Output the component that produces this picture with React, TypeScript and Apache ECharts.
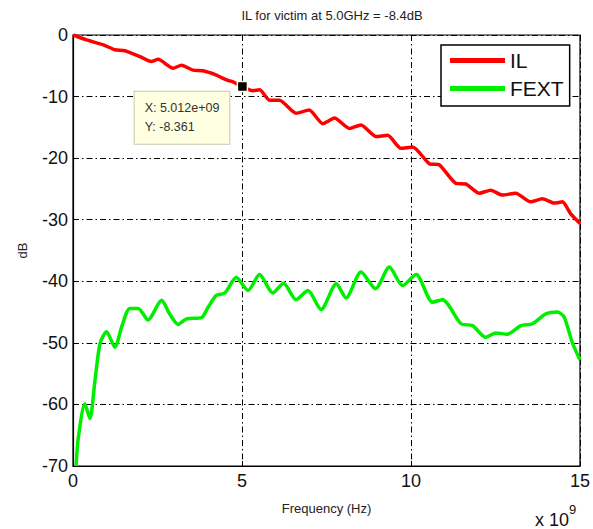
import React, { useEffect, useRef } from "react";
import * as echarts from "echarts";

const FONT = "Liberation Sans, Arial, sans-serif";

const titleText = "IL for victim at 5.0GHz = -8.4dB";
const seriesNames = ["IL", "FEXT"];
const xTicks = [0, 5, 10, 15];
const yTicks = [0, -10, -20, -30, -40, -50, -60, -70];

// frequency in units of 1e9 Hz
const ilFreq = [0, 0.4, 0.9, 1.24, 1.53, 1.98, 2.32, 2.52, 2.96, 3.21, 3.55, 3.85, 4.24, 4.54, 4.73, 5.012, 5.32, 5.52, 5.82, 6.11, 6.6, 6.99, 7.39, 7.74, 8.18, 8.52, 8.97, 9.31, 9.7, 10.05, 10.54, 10.84, 11.33, 11.62, 12.02, 12.36, 12.7, 13.1, 13.54, 13.89, 14.23, 14.48, 14.72, 15];
const ilDb = [0, -0.8, -1.6, -2.4, -2.55, -3.5, -4.3, -3.95, -5.4, -4.9, -5.7, -5.8, -6.5, -7.3, -7.6, -8.361, -9.05, -8.9, -10.6, -10.6, -12.7, -12.2, -14.4, -13.5, -15.2, -14.6, -16.5, -16.3, -18.4, -18.2, -20.9, -21.1, -24.1, -24.2, -25.7, -25.2, -26.0, -25.7, -27.1, -26.6, -27.3, -27.1, -29.0, -30.6];

const fextFreq = [0.09, 0.16, 0.35, 0.5, 0.65, 0.8, 0.99, 1.24, 1.44, 1.68, 1.93, 2.22, 2.62, 2.86, 3.11, 3.36, 3.8, 4.0, 4.24, 4.49, 4.83, 5.18, 5.52, 5.91, 6.23, 6.6, 6.95, 7.34, 7.79, 8.08, 8.52, 8.95, 9.36, 9.75, 10.15, 10.64, 10.93, 11.48, 11.82, 12.21, 12.51, 12.85, 13.25, 13.59, 13.99, 14.33, 14.53, 14.77, 15];
const fextDb = [-70, -65.3, -59.9, -62.3, -56.1, -50.1, -48.2, -50.7, -47.4, -44.4, -44.4, -46.3, -43.1, -45.3, -47.0, -46.1, -45.9, -44.2, -42.3, -41.9, -39.4, -41.5, -38.9, -41.9, -40.3, -43.0, -41.5, -44.6, -40.4, -42.7, -38.5, -41.2, -37.7, -40.7, -38.9, -43.4, -43.0, -46.9, -47.2, -49.1, -48.4, -48.6, -47.2, -46.9, -45.3, -45.0, -45.8, -49.9, -52.8];

const tipX = 5.012;
const tipY = -8.361;
const tipLabel = "X: 5.012e+09\nY: -8.361";

export default function App() {
  const ref = useRef<HTMLDivElement>(null);
  useEffect(() => {
    if (!ref.current) return;
    const chart = echarts.init(ref.current, null, { renderer: "svg" });
    const gridLine = { show: true, lineStyle: { color: "#000", width: 1, type: [6, 3, 1.5, 3] as any } };
    chart.setOption({
      animation: false,
      backgroundColor: "#fff",
      textStyle: { fontFamily: FONT },
      title: {
        text: titleText,
        left: 327,
        textAlign: "center",
        top: 4,
        textStyle: { fontSize: 13, fontWeight: "normal", color: "#222", fontFamily: FONT },
      },
      grid: {
        left: 73, right: 12, top: 35, bottom: 63,
        show: true, borderColor: "#000", borderWidth: 1.2, backgroundColor: "transparent",
      },
      legend: {
        orient: "vertical",
        left: 441, top: 45,
        backgroundColor: "#fff",
        borderColor: "#000",
        borderWidth: 1.5,
        borderRadius: 0,
        padding: [5, 6, 7, 9],
        itemWidth: 55,
        itemHeight: 5,
        itemGap: 7,
        icon: "rect",
        textStyle: { fontSize: 21, color: "#111", fontFamily: FONT },
        data: seriesNames,
      },
      xAxis: {
        type: "value",
        min: 0, max: 15, interval: 5,
        name: "Frequency (Hz)",
        nameLocation: "middle",
        nameGap: 36,
        nameTextStyle: { fontSize: 13, color: "#222", fontFamily: FONT },
        axisLine: { show: true, onZero: false, lineStyle: { color: "#000", width: 1.2 } },
        axisTick: { show: true, inside: true, length: 5, lineStyle: { color: "#000" } },
        axisLabel: {
          fontSize: 18, color: "#111", margin: 6, fontFamily: FONT,
          formatter: (v: number) => (xTicks.includes(v) ? String(v) : ""),
        },
        splitLine: gridLine,
      },
      yAxis: {
        type: "value",
        min: -70, max: 0, interval: 10,
        name: "dB",
        nameLocation: "middle",
        nameGap: 44,
        nameTextStyle: { fontSize: 13, color: "#222", fontFamily: FONT },
        axisLine: { show: true, onZero: false, lineStyle: { color: "#000", width: 1.2 } },
        axisTick: { show: true, inside: true, length: 5, lineStyle: { color: "#000" } },
        axisLabel: {
          fontSize: 18, color: "#111", margin: 5, fontFamily: FONT,
          formatter: (v: number) => (yTicks.includes(v) ? String(v) : ""),
        },
        splitLine: gridLine,
      },
      series: [
        {
          name: seriesNames[0],
          type: "line",
          symbol: "none",
          smooth: 0.2,
          clip: true,
          lineStyle: { color: "#ff0000", width: 3.5 },
          itemStyle: { color: "#ff0000" },
          data: ilFreq.map((f, i) => [f, ilDb[i]]),
          z: 3,
          markPoint: {
            silent: true,
            symbol: "rect",
            symbolSize: 10,
            itemStyle: { color: "#000", borderColor: "#ffffd0", borderWidth: 1.5 },
            label: {
              show: true,
              position: [-102, 11],
              formatter: tipLabel,
              backgroundColor: "#ffffe1",
              borderColor: "#c8c8b0",
              borderWidth: 1,
              padding: [7, 10, 7, 10],
              color: "#333",
              fontSize: 12.5,
              lineHeight: 19,
              fontFamily: FONT,
              align: "left",
              verticalAlign: "top",
            },
            data: [{ coord: [tipX, tipY] }],
          },
        },
        {
          name: seriesNames[1],
          type: "line",
          symbol: "none",
          smooth: 0.25,
          clip: true,
          lineStyle: { color: "#00ee00", width: 3.5 },
          itemStyle: { color: "#00ee00" },
          data: fextFreq.map((f, i) => [f, fextDb[i]]),
          z: 2,
        },
      ],
      graphic: [
        {
          type: "text",
          left: 535,
          top: 503,
          style: {
            text: "{a|x 10}{b|9}",
            rich: {
              a: { fontSize: 18, fill: "#111", fontFamily: FONT, padding: [8, 0, 0, 0] },
              b: { fontSize: 13, fill: "#111", fontFamily: FONT, verticalAlign: "top" },
            },
          },
        },
      ],
    });
    return () => chart.dispose();
  }, []);
  return <div ref={ref} style={{ position: "fixed", left: 0, top: 0, width: 593, height: 529 }} />;
}
